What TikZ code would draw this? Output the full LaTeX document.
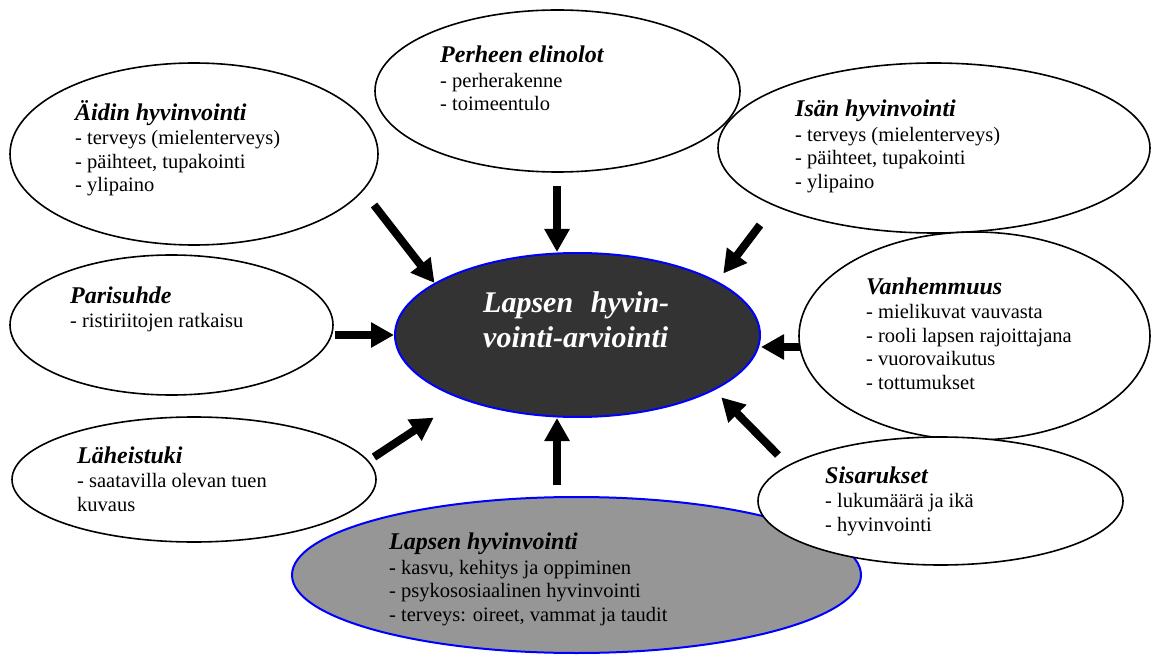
\documentclass[tikz,border=0pt]{standalone}
\usepackage{fontspec}
\setmainfont{Liberation Serif}
\usetikzlibrary{arrows.meta,shapes.geometric}
\definecolor{darkfill}{RGB}{51,51,51}
\definecolor{grayfill}{RGB}{150,150,150}
\newcommand\bubtitle[1]{{\fontsize{24}{24}\selectfont\bfseries\itshape #1}}
\begin{document}
\begin{tikzpicture}[x=1pt,y=-1pt,
  bubble/.style={ellipse, draw=black, line width=1.6pt, fill=white, inner sep=0pt},
  core/.style={ellipse, draw=blue, line width=2pt, fill=darkfill, inner sep=0pt},
  childbub/.style={ellipse, draw=blue, line width=2pt, fill=grayfill, inner sep=0pt},
  txt/.style={anchor=base west, align=left, inner sep=0pt, font=\fontsize{20.5}{23.5}\selectfont},
  arr/.style={line width=8pt, -{Triangle[length=23pt,width=24pt]}}]
\fill[white] (0,0) rectangle (1152,655);
\path[use as bounding box] (0,0) rectangle (1152,655);

% outer ellipses
\node[bubble, minimum width=368pt, minimum height=182pt] (aidin) at (194,154) {};
\node[bubble, minimum width=365pt, minimum height=162pt] (perheen) at (557.5,91) {};
\node[bubble, minimum width=432pt, minimum height=170pt] (isan) at (934,148) {};
\node[bubble, minimum width=323pt, minimum height=140pt] (paris) at (171.5,325) {};
\node[bubble, minimum width=351pt, minimum height=208pt] (vanh) at (974.5,336) {};
\node[bubble, minimum width=364pt, minimum height=125pt] (lah) at (194,479.5) {};
\node[childbub, minimum width=569pt, minimum height=156pt] (lapsi) at (576.5,575) {};
\node[bubble, minimum width=365pt, minimum height=128pt] (sisar) at (940.5,501) {};

% central ellipse
\node[core, minimum width=365pt, minimum height=164pt] (core) at (577.5,335) {};

% texts (anchor = baseline of the last line)
\node[txt] (aidinText) at (75,192) {\bubtitle{Äidin hyvinvointi}\\[1pt]- terveys (mielenterveys)\\- päihteet, tupakointi\\- ylipaino};
\node[txt] (perheenText) at (440,111) {\bubtitle{Perheen elinolot}\\[1pt]- perherakenne\\- toimeentulo};
\node[txt] (isanText) at (795,188.5) {\bubtitle{Isän hyvinvointi}\\[1pt]- terveys (mielenterveys)\\- päihteet, tupakointi\\- ylipaino};
\node[txt] (parisText) at (70,327.5) {\bubtitle{Parisuhde}\\[1pt]- ristiriitojen ratkaisu};
\node[txt] (vanhText) at (866,389) {\bubtitle{Vanhemmuus}\\[1pt]- mielikuvat vauvasta\\- rooli lapsen rajoittajana\\- vuorovaikutus\\- tottumukset};
\node[txt] (lahText) at (77,511) {\bubtitle{Läheistuki}\\[1pt]- saatavilla olevan tuen\\kuvaus};
\node[txt] (lapsiText) at (389,621) {\bubtitle{Lapsen hyvinvointi}\\[1pt]\textbf{-} kasvu, kehitys ja oppiminen\\- psykososiaalinen hyvinvointi\\- terveys: oireet, vammat ja taudit};
\node[txt] (sisarText) at (825,531) {\bubtitle{Sisarukset}\\[1pt]- lukumäärä ja ikä\\- hyvinvointi};
\node[anchor=base west, align=left, inner sep=0pt, text=white,
      font=\fontsize{30}{35}\selectfont\bfseries\itshape] (coreText) at (483,347)
      {\makebox[186pt][s]{Lapsen hyvin-}\\vointi-arviointi};

% arrow tails
\coordinate (tA) at (374,205);
\coordinate (tP) at (557,186);
\coordinate (tI) at (760,225);
\coordinate (tPa) at (335,335);
\coordinate (tV) at (800,347);
\coordinate (tL) at (374,457);
\coordinate (tG) at (557,485);
\coordinate (tS) at (778,455);

% arrows
\draw[arr] (tA) -- (core.160);
\draw[arr] (tP) -- (tP |- core.north);
\draw[arr, shorten >=9.7pt] (tI) -- (core.21.8);
\draw[arr] (tPa) -- (core.west);
\draw[arr] (tV) -- (tV -| core.east);
\draw[arr, shorten >=33.2pt] (tL) -- (core.209.1);
\draw[arr] (tG) -- (tG |- core.south);
\draw[arr, shorten >=9.9pt] (tS) -- (core.-22.1);
\end{tikzpicture}
\end{document}
